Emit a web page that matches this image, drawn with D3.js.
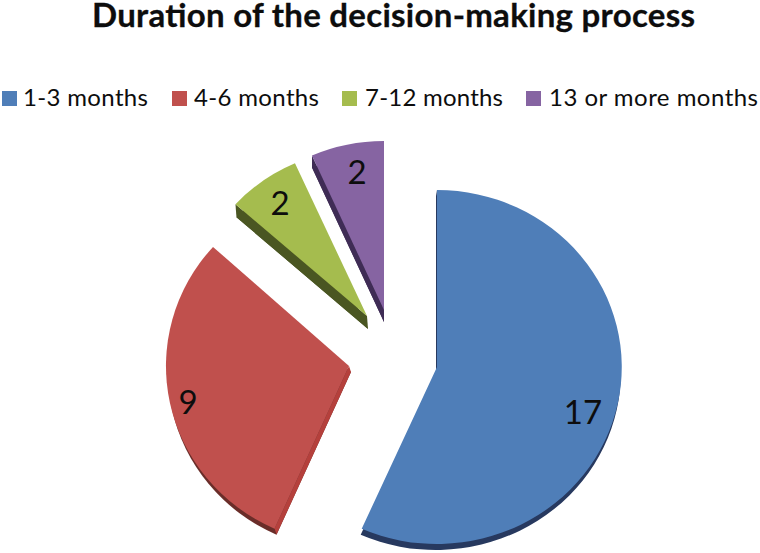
<!DOCTYPE html>
<html>
<head>
<meta charset="utf-8">
<script src="https://cdnjs.cloudflare.com/ajax/libs/d3/7.8.5/d3.min.js"></script>
<style>
  html, body { margin: 0; padding: 0; background: #fff; }
  svg { display: block; }
  text { font-family: Lato, "Open Sans", sans-serif; fill: #0d0d0d; }
</style>
</head>
<body>
<div id="chart"></div>
<script>
var categories = ["1-3 months", "4-6 months", "7-12 months", "13 or more months"];
var values = [17, 9, 2, 2];
var title = "Duration of the decision-making process";

var faceColors = ["#4f7eb8", "#c0504d", "#a5bc4e", "#8664a2"];
var sideColors = ["#27395f", "#6a2d29", "#4a5622", "#3f2c55"];
var wallColors = ["#27395f", "#b5403c", "#4a5622", "#3f2c55"];

// slice layout: exploded apex, squashed radii, depth offset, label offset from apex
var apex = [[437, 367], [349, 366], [367, 316], [384, 310]];
var radii = [[185, 177], [183, 178], [177, 167], [177, 169]];
var depth = [[-1, 6], [2, 6], [1, 13], [0, 12]];
var labelAt = [[146, 45], [-161, 36], [-87, -113], [-27, -138]];

var legendSwatchX = [2, 172, 342, 526];
var legendTextX = [23, 194, 365, 549];
var legendTextLen = [125, 125, 138, 209];

var width = 760, height = 553;

var svg = d3.select("#chart").append("svg")
  .attr("width", width)
  .attr("height", height);

svg.append("text")
  .attr("x", 92)
  .attr("y", 27)
  .attr("textLength", 603)
  .attr("lengthAdjust", "spacing")
  .style("font-size", "33px")
  .style("font-weight", 700)
  .style("stroke", "#0d0d0d")
  .style("stroke-width", 0.3)
  .text(title);

var legend = svg.selectAll("g.legend")
  .data(categories)
  .enter().append("g")
  .attr("class", "legend");

legend.append("rect")
  .attr("x", function(d, i) { return legendSwatchX[i]; })
  .attr("y", 91)
  .attr("width", 15)
  .attr("height", 15)
  .attr("fill", function(d, i) { return faceColors[i]; });

legend.append("text")
  .attr("x", function(d, i) { return legendTextX[i]; })
  .attr("y", 106)
  .attr("textLength", function(d, i) { return legendTextLen[i]; })
  .attr("lengthAdjust", "spacing")
  .style("font-size", "24px")
  .text(function(d) { return d; });

var pie = d3.pie().sort(null);
var arcs = pie(values);
var arc = d3.arc().innerRadius(0).outerRadius(1);

var slices = svg.selectAll("g.slice")
  .data(arcs)
  .enter().append("g")
  .attr("class", "slice");

// depth of the slice, the same wedge pushed down underneath the face
slices.append("path")
  .attr("d", arc)
  .attr("fill", function(d, i) { return sideColors[i]; })
  .attr("transform", function(d, i) {
    return "translate(" + (apex[i][0] + depth[i][0]) + "," + (apex[i][1] + depth[i][1]) + ")" +
      "scale(" + radii[i][0] + "," + radii[i][1] + ")";
  });

// the straight wall leading into the start angle
slices.append("path")
  .attr("fill", function(d, i) { return wallColors[i]; })
  .attr("d", function(d, i) {
    var a = apex[i], r = radii[i], s = depth[i];
    var ex = a[0] + r[0] * Math.sin(d.startAngle);
    var ey = a[1] - r[1] * Math.cos(d.startAngle);
    return d3.line()([[a[0], a[1]], [ex, ey], [ex + s[0], ey + s[1]], [a[0] + s[0], a[1] + s[1]]]) + "Z";
  });

slices.append("path")
  .attr("d", arc)
  .attr("fill", function(d, i) { return faceColors[i]; })
  .attr("transform", function(d, i) {
    return "translate(" + apex[i][0] + "," + apex[i][1] + ")" +
      "scale(" + radii[i][0] + "," + radii[i][1] + ")";
  });

slices.append("text")
  .attr("x", function(d, i) { return apex[i][0] + labelAt[i][0]; })
  .attr("y", function(d, i) { return apex[i][1] + labelAt[i][1]; })
  .attr("text-anchor", "middle")
  .attr("dy", "0.35em")
  .style("font-size", "33px")
  .text(function(d) { return d.data; });
</script>
</body>
</html>
